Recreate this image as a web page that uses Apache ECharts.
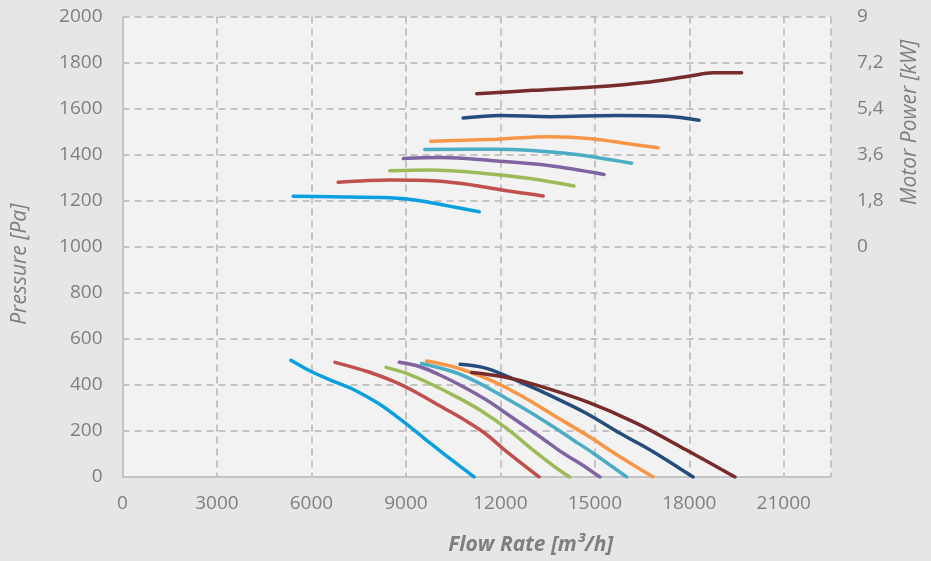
<!DOCTYPE html>
<html>
<head>
<meta charset="utf-8">
<script src="https://cdn.jsdelivr.net/npm/echarts@6/dist/echarts.min.js"></script>
<style>
html,body{margin:0;padding:0;background:#e5e6e7;}
#chart{width:931px;height:561px;}
</style>
</head>
<body>
<div id="chart"></div>
<script>
// ---- Data (flow rate m³/h, pressure Pa) ----
const pressureA = [[5350,507],[6010,457],[6750,413],[7380,377],[8120,320],[8860,247],[9600,166],[10340,86],[11170,0]];
const pressureB = [[6750,498],[7800,457],[8650,413],[9390,363],[10130,305],[10870,247],[11510,190],[12200,110],[13230,0]];
const pressureC = [[8370,476],[9020,450],[9760,406],[10610,348],[11350,291],[12200,211],[13040,117],[13790,38],[14200,0]];
const pressureD = [[8790,498],[9450,479],[10080,443],[10820,392],[11560,334],[12410,255],[13260,175],[14000,103],[14530,59],[15160,0]];
const pressureE = [[9500,493],[10500,457],[11250,413],[12000,356],[12830,291],[13680,218],[14310,161],[14950,103],[16010,0]];
const pressureF = [[9660,504],[10500,479],[11560,428],[12620,356],[13680,269],[14740,182],[15800,88],[16850,0]];
const pressureG = [[10720,490],[11560,472],[12620,413],[13680,348],[14740,276],[15800,190],[16850,110],[18120,0]];
const pressureH = [[11090,454],[12090,435],[13150,399],[14740,327],[16330,233],[17910,117],[19450,0]];

// ---- Data (flow rate m³/h, motor power kW) ----
const powerA = [[5420,1.97],[6590,1.95],[8490,1.91],[9230,1.83],[10290,1.60],[11330,1.36]];
const powerB = [[6850,2.51],[8490,2.60],[9980,2.56],[11140,2.40],[12200,2.18],[13360,1.98]];
const powerC = [[8490,2.96],[9760,2.99],[11350,2.88],[12940,2.66],[14340,2.37]];
const powerD = [[8920,3.44],[10080,3.48],[11880,3.35],[13470,3.18],[15290,2.82]];
const powerE = [[9600,3.80],[11880,3.81],[14000,3.66],[16170,3.26]];
const powerF = [[9790,4.12],[11880,4.20],[13570,4.29],[14950,4.21],[16010,4.03],[17010,3.86]];
const powerG = [[10820,5.03],[12000,5.13],[13570,5.08],[15690,5.13],[17280,5.10],[18310,4.94]];
const powerH = [[11250,5.98],[13040,6.11],[14950,6.24],[16750,6.44],[18020,6.67],[18760,6.80],[19660,6.80]];

const modelNames = ['A','B','C','D','E','F','G','H'];
const xTicks = [0,3000,6000,9000,12000,15000,18000,21000];
const pressureTicks = [0,200,400,600,800,1000,1200,1400,1600,1800,2000];
const powerTicks = [0,1.8,3.6,5.4,7.2,9];

const pressureSets = [pressureA,pressureB,pressureC,pressureD,pressureE,pressureF,pressureG,pressureH];
const powerSets = [powerA,powerB,powerC,powerD,powerE,powerF,powerG,powerH];
const colors = ['#0aa0e0','#c0504d','#9bbb59','#8064a2','#4bacc6','#f79646','#254d7c','#772b2b'];

const FONT = '"Open Sans", "Noto Sans", sans-serif';
const GREY = '#7f7f7f';

const series = [];
pressureSets.forEach((d,i)=>{
  series.push({name:'Pressure '+modelNames[i],type:'line',xAxisIndex:0,yAxisIndex:0,data:d,
    smooth:0.35,symbol:'none',lineStyle:{width:3.5,color:colors[i],cap:'round'},itemStyle:{color:colors[i]},z:2+i});
});
powerSets.forEach((d,i)=>{
  series.push({name:'Power '+modelNames[i],type:'line',xAxisIndex:1,yAxisIndex:1,data:d,
    smooth:0.35,symbol:'none',lineStyle:{width:3.5,color:colors[i],cap:'round'},itemStyle:{color:colors[i]},z:2+i});
});

const chart = echarts.init(document.getElementById('chart'));
chart.setOption({
  backgroundColor:'#e5e6e7',
  animation:false,
  textStyle:{fontFamily:FONT},
  grid:[
    {left:122.5,right:100,top:16.5,bottom:84,show:true,backgroundColor:'#f2f2f2',borderWidth:0,containLabel:false,outerBoundsMode:'none'},
    {left:122.5,right:100,top:16.5,bottom:314.5,show:false,containLabel:false,outerBoundsMode:'none'}
  ],
  xAxis:[
    {type:'value',gridIndex:0,min:xTicks[0],max:22500,interval:3000,
     name:'Flow Rate [m³/h]',nameLocation:'middle',nameGap:58,
     nameTextStyle:{color:GREY,fontSize:21,fontStyle:'italic',fontWeight:'bold',fontFamily:FONT,padding:[0,0,0,108]},
     axisLine:{show:true,lineStyle:{color:'#c3c3c3',width:2}},
     axisTick:{show:false},
     axisLabel:{color:GREY,fontSize:19,margin:17,formatter:v=>xTicks.includes(v)?String(v):''},
     splitLine:{show:true,lineStyle:{color:'#c3c3c3',type:[7,5],width:2}}},
    {type:'value',gridIndex:1,min:0,max:22500,show:false}
  ],
  yAxis:[
    {type:'value',gridIndex:0,min:pressureTicks[0],max:pressureTicks[pressureTicks.length-1],interval:200,
     name:'Pressure [Pa]',nameLocation:'middle',nameGap:92,nameRotate:90,
     nameTextStyle:{color:GREY,fontSize:21,fontStyle:'italic',fontFamily:FONT,padding:[0,35,0,0]},
     axisLine:{show:true,lineStyle:{color:'#c3c3c3',width:2}},
     axisTick:{show:false},
     axisLabel:{color:GREY,fontSize:19,margin:20,formatter:v=>String(v)},
     splitLine:{show:true,lineStyle:{color:'#c3c3c3',type:[7,5],width:2}}},
    {type:'value',gridIndex:1,position:'right',offset:6,min:powerTicks[0],max:powerTicks[powerTicks.length-1],interval:1.8,
     name:'Motor Power [kW]',nameLocation:'middle',nameGap:63,nameRotate:90,
     nameTextStyle:{color:GREY,fontSize:21,fontStyle:'italic',fontFamily:FONT,padding:[0,0,0,18]},
     axisLine:{show:true,lineStyle:{color:'#c3c3c3',width:2}},
     axisTick:{show:true,length:5,lineStyle:{color:'#c3c3c3',width:2}},
     axisLabel:{color:GREY,fontSize:19,margin:20,formatter:v=>String(Math.round(v*10)/10).replace('.',',')},
     splitLine:{show:false}}
  ],
  series:series
});
</script>
</body>
</html>
